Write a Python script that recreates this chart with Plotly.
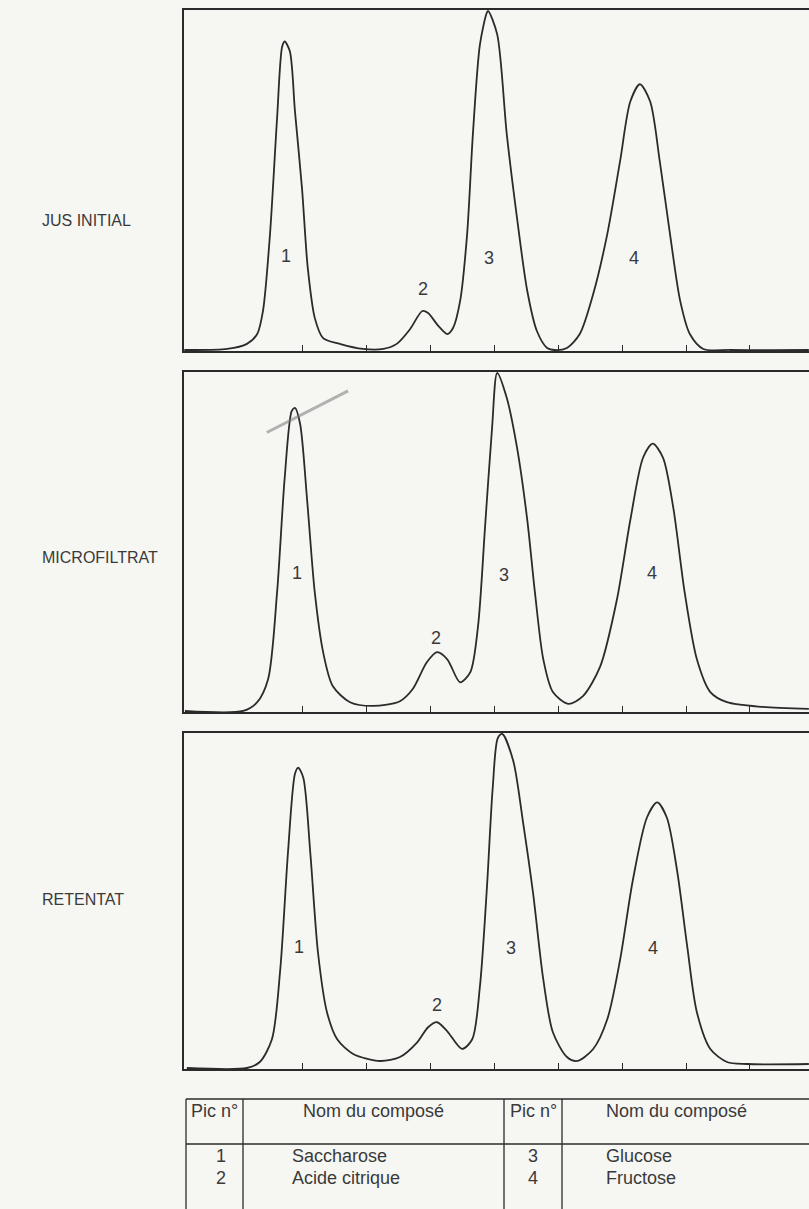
import plotly.graph_objects as go

# ---------------- data (x: retention units, y: % of full scale) ----------------
jus_x = [0.16, 0.83, 1.14, 1.30, 1.39, 1.50, 1.61, 1.69, 1.73, 1.81, 1.89, 2.00, 2.09, 2.20, 2.33,
         2.59, 2.95, 3.27, 3.48, 3.69, 3.88, 3.97, 4.13, 4.27, 4.36, 4.47, 4.58, 4.67, 4.78, 4.89,
         4.91, 5.05, 5.20, 5.36, 5.52, 5.67, 5.83, 5.95, 6.14, 6.34, 6.55, 6.77, 6.97, 7.13, 7.28,
         7.44, 7.59, 7.75, 7.91, 8.06, 8.27, 8.69, 9.92]
jus_y = [0.0, 0.3, 1.8, 4.7, 11.5, 34.2, 68.3, 89.5, 91.0, 88.1, 70.4, 47.7, 24.2, 9.4, 3.5,
         1.8, 0.3, 0.3, 1.8, 6.2, 11.5, 10.9, 7.1, 4.7, 6.5, 14.4, 34.2, 63.6, 90.1, 99.6,
         100.0, 93.1, 63.6, 38.9, 17.4, 5.6, 0.6, 0.0, 0.6, 4.7, 16.5, 34.2, 55.7, 73.3, 78.4,
         73.3, 55.7, 34.2, 14.4, 4.7, 0.3, 0.0, 0.0]

micro_x = [0.17, 1.08, 1.30, 1.47, 1.61, 1.73, 1.84, 1.89, 1.97, 2.08, 2.20, 2.33, 2.48, 2.75,
           3.11, 3.53, 3.73, 3.95, 4.11, 4.27, 4.47, 4.63, 4.75, 4.86, 4.97, 5.05, 5.20, 5.36,
           5.52, 5.64, 5.77, 5.92, 6.16, 6.39, 6.66, 6.92, 7.13, 7.33, 7.48, 7.64, 7.80, 7.98,
           8.17, 8.38, 8.64, 9.20, 9.92]
micro_y = [0.0, 0.0, 2.6, 9.4, 35.0, 69.1, 88.8, 89.7, 85.0, 62.4, 35.0, 17.4, 7.4, 2.6,
           1.5, 2.9, 6.5, 14.4, 17.4, 15.3, 8.5, 11.5, 25.0, 54.4, 83.8, 100.0, 92.6, 77.9,
           56.5, 35.0, 15.3, 5.6, 2.1, 4.4, 13.2, 32.9, 56.5, 75.0, 79.1, 75.0, 60.3, 35.0,
           15.3, 5.6, 2.6, 1.2, 0.6]

ret_x = [0.20, 1.14, 1.34, 1.53, 1.66, 1.78, 1.89, 1.94, 2.02, 2.13, 2.25, 2.39, 2.55, 2.80,
         3.22, 3.53, 3.80, 3.97, 4.11, 4.27, 4.50, 4.66, 4.78, 4.89, 4.98, 5.06, 5.13, 5.30,
         5.45, 5.61, 5.77, 5.92, 6.14, 6.30, 6.55, 6.77, 6.97, 7.17, 7.39, 7.55, 7.70, 7.86,
         8.02, 8.17, 8.38, 8.64, 8.95, 9.92]
ret_y = [0.0, 0.0, 1.8, 8.6, 29.5, 64.3, 88.1, 89.9, 86.9, 64.3, 34.5, 16.7, 8.6, 4.2,
         2.1, 3.3, 7.7, 12.2, 13.7, 11.0, 5.7, 8.6, 24.4, 54.2, 83.9, 98.8, 100.0, 92.0,
         74.1, 52.4, 26.5, 10.7, 3.3, 2.1, 5.7, 14.6, 32.4, 56.3, 75.0, 79.5, 75.0, 59.2,
         36.3, 16.7, 5.7, 1.8, 1.2, 1.2]

sample_names = ["JUS INITIAL", "MICROFILTRAT", "RETENTAT"]
peak_labels = ["1", "2", "3", "4"]
jus_lab_x = [1.75, 3.89, 4.92, 7.19]
jus_lab_y = [27.7, 18.0, 27.1, 27.1]
micro_lab_x = [1.92, 4.09, 5.16, 7.47]
micro_lab_y = [40.9, 21.5, 40.3, 40.9]
ret_lab_x = [1.95, 4.11, 5.27, 7.48]
ret_lab_y = [36.3, 18.8, 36.0, 36.0]

tick_vals = [2, 3, 4, 5, 6, 7, 8, 9]

table_header = ["Pic n°", "Nom du composé", "Pic n°", "Nom du composé"]
pic_left = ["1", "2"]
name_left = ["Saccharose", "Acide citrique"]
pic_right = ["3", "4"]
name_right = ["Glucose", "Fructose"]

# ---------------- layout geometry ----------------
W, H = 809, 1209
BG = "#f6f6f3"
INK = "#2b2b2b"
TXT = "#3a3a3a"
FONT = "Liberation Sans, Arial, sans-serif"

def py(p):
    return 1 - p / H

def px(p):
    return p / W

panels = [
    (jus_x, jus_y, jus_lab_x, jus_lab_y, 10, 351, 210),
    (micro_x, micro_y, micro_lab_x, micro_lab_y, 372, 712, 557),
    (ret_x, ret_y, ret_lab_x, ret_lab_y, 733, 1069, 910),
]

fig = go.Figure()
annotations = []
shapes = []
layout = dict(
    width=W, height=H, margin=dict(l=0, r=0, t=0, b=0),
    paper_bgcolor=BG, plot_bgcolor=BG, showlegend=False,
    font=dict(family=FONT, color=INK),
)

for i, (xs, ys, lx, ly, top, bot, label_y) in enumerate(panels):
    n = "" if i == 0 else str(i + 1)
    xa, ya = "x" + n, "y" + n
    fig.add_trace(go.Scatter(x=xs, y=ys, mode="lines", xaxis=xa, yaxis=ya,
                             line=dict(color=INK, width=1.8, shape="spline", smoothing=0.8),
                             hoverinfo="skip"))
    layout["xaxis" + n] = dict(
        domain=[px(184), 1], range=[0.156, 9.922], anchor=ya,
        showline=True, linecolor=INK, linewidth=1.5, mirror=True,
        ticks="inside", ticklen=6, tickwidth=1.2, tickcolor=INK,
        tickvals=tick_vals, showticklabels=False, showgrid=False, zeroline=False,
    )
    layout["yaxis" + n] = dict(
        domain=[py(bot), py(top)], range=[-0.3, 100.3], anchor=xa,
        showline=True, linecolor=INK, linewidth=1.5, mirror=False,
        ticks="", showticklabels=False, showgrid=False, zeroline=False,
    )
    for t, x, y in zip(peak_labels, lx, ly):
        annotations.append(dict(x=x, y=y, xref=xa, yref=ya, text=t, showarrow=False,
                                font=dict(size=18, family=FONT, color=TXT)))
    annotations.append(dict(x=px(40), y=py(label_y), xref="paper", yref="paper",
                            text=sample_names[i], showarrow=False, xanchor="left",
                            font=dict(size=16, family=FONT, color=TXT)))

# pencil mark on the microfiltrat chromatogram (scan artefact)
shapes.append(dict(type="line", xref="x2", yref="y2", x0=1.45, y0=82.4, x1=2.72, y1=94.7,
                   line=dict(color="rgba(120,120,120,0.55)", width=3)))

# ---------------- compound table ----------------
t_top, t_head, t_bot = 1099, 1144, 1215
col_lines = [186, 243, 504, 562]
for yy in (t_top, t_head):
    shapes.append(dict(type="line", xref="paper", yref="paper", x0=px(186), x1=1,
                       y0=py(yy), y1=py(yy), line=dict(color=INK, width=1.3)))
for c in col_lines:
    shapes.append(dict(type="line", xref="paper", yref="paper", x0=px(c), x1=px(c),
                       y0=py(t_top), y1=py(t_bot), line=dict(color=INK, width=1.3)))

TF = dict(size=18, family=FONT, color=TXT)
head_x = [214, 373, 533, 604]
head_anchor = ["center", "center", "center", "left"]
for t, x, a in zip(table_header, head_x, head_anchor):
    annotations.append(dict(x=px(x), y=py(1123), xref="paper", yref="paper", text=t,
                            showarrow=False, xanchor=a, font=TF))
row_y = [1168, 1190]
for k in range(2):
    annotations.append(dict(x=px(214), y=py(row_y[k]), xref="paper", yref="paper",
                            text=pic_left[k], showarrow=False, font=TF))
    annotations.append(dict(x=px(290), y=py(row_y[k]), xref="paper", yref="paper",
                            text=name_left[k], showarrow=False, xanchor="left", font=TF))
    annotations.append(dict(x=px(533), y=py(row_y[k]), xref="paper", yref="paper",
                            text=pic_right[k], showarrow=False, font=TF))
    annotations.append(dict(x=px(604), y=py(row_y[k]), xref="paper", yref="paper",
                            text=name_right[k], showarrow=False, xanchor="left", font=TF))

layout["annotations"] = annotations
layout["shapes"] = shapes
fig.update_layout(**layout)
fig.write_html("out.html", config={"displayModeBar": False},
               post_script="document.body.style.margin='0';document.body.style.background='%s';" % BG)
